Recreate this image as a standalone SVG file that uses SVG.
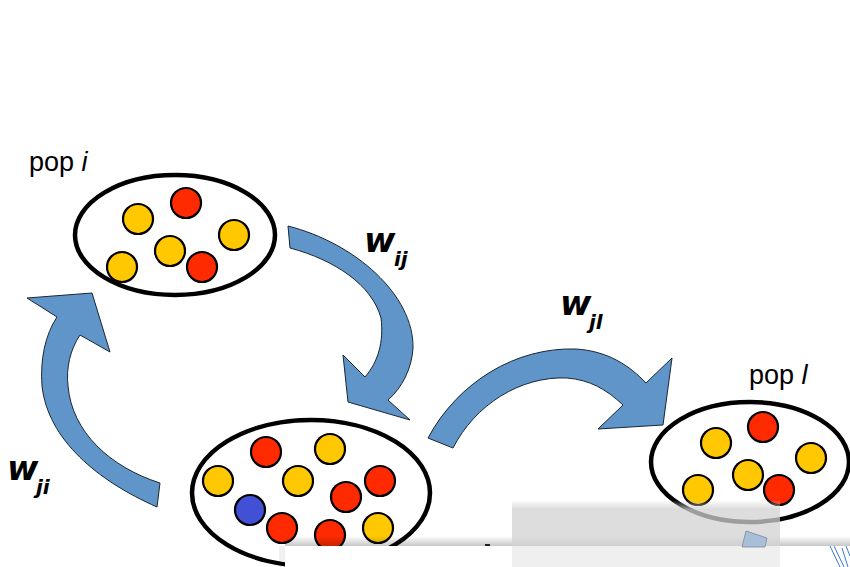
<svg xmlns="http://www.w3.org/2000/svg" width="850" height="567" viewBox="0 0 850 567">
<defs>
<style>
.pop{fill:#fff;stroke:#000;stroke-width:4.5}
.y{fill:#ffc800;stroke:#000;stroke-width:2.2}
.r{fill:#ff2a00;stroke:#000;stroke-width:2.2}
.b{fill:#4150d4;stroke:#000;stroke-width:2.2}
.arr{fill:#5f95c8;stroke:#1a2633;stroke-width:1}
.lbl{font-family:"Liberation Sans",Arial,sans-serif;font-size:27px;fill:#000}
.w{font-family:"DejaVu Sans",Verdana,sans-serif;font-weight:bold;font-style:italic;fill:#000}
</style>
<linearGradient id="shTop" x1="0" y1="0" x2="0" y2="1">
<stop offset="0" stop-color="#000" stop-opacity="0"/>
<stop offset="1" stop-color="#000" stop-opacity="0.22"/>
</linearGradient>
<linearGradient id="grayTop" x1="0" y1="0" x2="0" y2="1">
<stop offset="0" stop-color="#cfcfcf" stop-opacity="0"/>
<stop offset="1" stop-color="#cfcfcf" stop-opacity="0.8"/>
</linearGradient>
</defs>
<rect width="850" height="567" fill="#fff"/>

<g id="connectors">
<path id="arrow-ij" class="arr" d="M288,226 C355,243 414,295 413,348 C412,368 402,388 388,400 L410,420 L348,402 L343,355 L365,377 C378,362 384,342 381,318 C372,285 335,260 290,248 Z"/>
<path id="arrow-jl" class="arr" d="M428,438 C458,382 516,347 576,349 C608,351 630,366 646,383 L672,358 L663,425 L598,429 L623,405 C606,389 590,380 567,378 C520,376 475,405 453,448 Z"/>
<path id="arrow-ji" class="arr" d="M157,507 C98,481 48,440 42,386 C40,360 45,335 57,317 L27,298 L92,293 L110,352 L80,335 C70,350 66,368 68,386 C72,432 110,467 160,483 Z"/>
</g>

<g id="label-wij"><text class="w" x="364" y="252" font-size="34">w</text><text class="w" x="394" y="266" font-size="20">ij</text></g>
<g id="label-wjl"><text class="w" x="560" y="315" font-size="34">w</text><text class="w" x="589" y="329" font-size="20">jl</text></g>
<g id="label-wji"><text class="w" x="7" y="480" font-size="34">w</text><text class="w" x="36" y="494" font-size="20">ji</text></g>

<g id="pop-i">
<text class="lbl" x="29" y="171">pop <tspan font-style="italic">i</tspan></text>
<ellipse class="pop" cx="175" cy="235" rx="100" ry="60"/>
<circle class="y" cx="138" cy="219" r="15"/>
<circle class="r" cx="186" cy="203" r="15"/>
<circle class="y" cx="234" cy="235" r="15"/>
<circle class="y" cx="170" cy="251" r="15"/>
<circle class="y" cx="122" cy="267" r="15"/>
<circle class="r" cx="202" cy="267" r="15"/>
</g>

<g id="pop-j">
<ellipse class="pop" cx="311" cy="493" rx="119" ry="73"/>
<circle class="r" cx="266" cy="452" r="15"/>
<circle class="y" cx="330" cy="449" r="15"/>
<circle class="y" cx="218" cy="481" r="15"/>
<circle class="y" cx="298" cy="481" r="15"/>
<circle class="r" cx="380" cy="481" r="15"/>
<circle class="r" cx="346" cy="497" r="15"/>
<circle class="b" cx="250" cy="510" r="15"/>
<circle class="r" cx="282" cy="528" r="15"/>
<circle class="r" cx="330" cy="535" r="15"/>
<circle class="y" cx="378" cy="528" r="15"/>
</g>

<g id="pop-l">
<text class="lbl" x="749" y="384">pop <tspan font-style="italic">l</tspan></text>
<ellipse class="pop" cx="750" cy="462" rx="99" ry="60"/>
<circle class="y" cx="716" cy="443" r="15"/>
<circle class="r" cx="763" cy="427" r="15"/>
<circle class="y" cx="811" cy="458" r="15"/>
<circle class="y" cx="748" cy="475" r="15"/>
<circle class="y" cx="698" cy="490" r="15"/>
<circle class="r" cx="779" cy="490" r="15"/>
</g>

<g id="overlay">
<rect x="285" y="536" width="565" height="10" fill="url(#shTop)"/>
<rect x="285" y="546" width="565" height="21" fill="#fff"/>
<rect x="279" y="546" width="6" height="21" fill="#000" opacity="0.06"/>
<rect x="512" y="500" width="268" height="10" fill="url(#grayTop)"/>
<rect x="512" y="510" width="268" height="36" fill="#d2d2d2" opacity="0.75"/>
<rect x="512" y="546" width="268" height="21" fill="#efefef"/>
<polygon points="746,531 767,538 765,547 742,547" fill="#a9bed8" stroke="#7a8a9a" stroke-width="0.8"/>
<rect x="485" y="544" width="5" height="2" fill="#222"/>
<g stroke="#3a78d0" stroke-width="1" fill="none">
<line x1="830" y1="546" x2="840" y2="567"/>
<line x1="834" y1="546" x2="844" y2="567"/>
<line x1="842" y1="548" x2="848" y2="567"/>
<line x1="846" y1="546" x2="850" y2="556"/>
</g>
</g>
</svg>
